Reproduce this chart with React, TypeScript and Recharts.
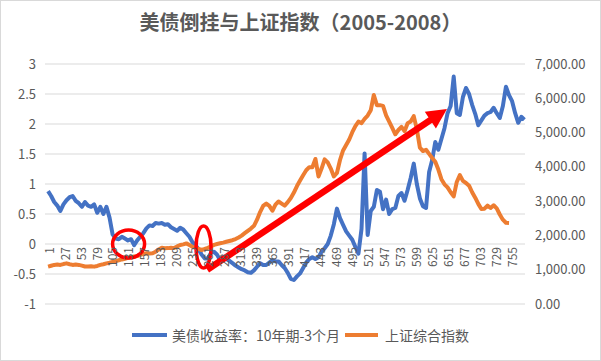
import React from "react";
import {
  LineChart,
  Line,
  XAxis,
  YAxis,
  CartesianGrid,
  ReferenceDot,
  ReferenceLine,
} from "recharts";

// 10Y - 3M US Treasury spread (left axis), sampled every 5th trading day
const yieldSpread: number[] = [
  0.88, 0.8, 0.7, 0.64, 0.55, 0.66, 0.73, 0.78, 0.8, 0.72,
  0.68, 0.62, 0.7, 0.64, 0.62, 0.66, 0.52, 0.62, 0.5, 0.62,
  0.44, 0.16, 0.09, 0.08, 0.12, 0.09, 0.06, 0.08, -0.02, 0.06,
  0.12, 0.18, 0.26, 0.31, 0.3, 0.35, 0.34, 0.35, 0.32, 0.33,
  0.28, 0.25, 0.22, 0.27, 0.24, 0.18, 0.12, 0.03, -0.02, -0.09,
  -0.18, -0.24, -0.24, -0.15, -0.13, -0.18, -0.27, -0.22, -0.25, -0.28,
  -0.32, -0.36, -0.39, -0.42, -0.44, -0.47, -0.48, -0.44, -0.38, -0.32,
  -0.35, -0.35, -0.31, -0.27, -0.29, -0.29, -0.35, -0.4, -0.48, -0.58,
  -0.6, -0.54, -0.49, -0.4, -0.31, -0.25, -0.22, -0.25, -0.22, -0.13,
  -0.07, 0.0, 0.14, 0.33, 0.59, 0.43, 0.32, 0.21, 0.14, 0.07,
  -0.05, -0.16, 0.25, 1.51, 0.15, 0.55, 0.62, 0.9, 0.87, 0.58,
  0.74, 0.5, 0.58, 0.6, 0.8, 0.85, 0.72, 0.9, 1.1, 1.34,
  1.0, 0.76, 0.63, 0.6, 1.2, 1.4, 1.7, 1.57, 1.75, 1.93,
  2.18, 2.3, 2.79, 2.18, 2.15, 2.45, 2.6, 2.5, 2.32, 2.17,
  1.98, 2.06, 2.14, 2.18, 2.2, 2.27, 2.18, 2.1, 2.3, 2.62,
  2.48, 2.38, 2.18, 2.02, 2.12, 2.07,
];

// Shanghai Composite Index (right axis), same sampling
const shanghai: number[] = [
  1090, 1115, 1140, 1150, 1140, 1165, 1185, 1160, 1140, 1150,
  1140, 1120, 1095, 1095, 1100, 1090, 1110, 1140, 1160, 1185,
  1205, 1230, 1250, 1275, 1300, 1320, 1345, 1365, 1385, 1400,
  1430, 1460, 1478, 1470, 1478, 1525, 1590, 1640, 1625, 1630,
  1640, 1630, 1680, 1720, 1740, 1768, 1720, 1665, 1635, 1605,
  1575, 1605, 1640, 1680, 1725, 1750, 1770, 1790, 1815, 1838,
  1860, 1895, 1940, 1995, 2065, 2135, 2200, 2280, 2460, 2680,
  2860, 2930, 2860, 2720, 2900, 2990, 2930, 2870, 2970, 3090,
  3250, 3440, 3600, 3755, 3900, 3990, 3990, 4230, 3720, 3950,
  4220, 4130, 3950, 3720, 3820, 4200, 4480, 4640, 4800, 5010,
  5190, 5318, 5275, 5400, 5495, 5650, 6096, 5800, 5800, 5780,
  5500, 5320, 5140, 4950, 5076, 5165, 5040, 5271, 5320, 5480,
  5100, 4560, 4460, 4500, 4380, 4260, 4150, 3920, 3640, 3490,
  3400, 3260, 3140, 3560, 3760, 3590, 3530, 3450, 3260, 3100,
  2920, 2770, 2780, 2870, 2800, 2880, 2790, 2610, 2460, 2370,
  2365,
];

// day number of each sample (category index on the x axis)
const dayIndex: number[] = yieldSpread.map((_, k) => 1 + 5 * k);

const xTicks: number[] = [
  1, 27, 53, 79, 105, 131, 157, 183, 209, 235, 261, 287, 313, 339, 365,
  391, 417, 443, 469, 495, 521, 547, 573, 599, 625, 651, 677, 703, 729, 755,
];
const leftTicks: number[] = [-1, -0.5, 0, 0.5, 1, 1.5, 2, 2.5, 3];
const rightTicks: number[] = [0, 1000, 2000, 3000, 4000, 5000, 6000, 7000];

const title = "美债倒挂与上证指数（2005-2008）";
const seriesNames = ["美债收益率：10年期-3个月", "上证综合指数"];

// annotation anchors (in data units)
const circleA = { day: 132, value: 0 };
const circleB = { day: 254, value: -0.05 };
const arrowFrom = { day: 260, value: -0.43 };
const arrowTo = { day: 650, value: 2.25 };

const data = dayIndex.map((day, k) => ({
  day,
  spread: yieldSpread[k],
  sh: k < shanghai.length ? shanghai[k] : null,
}));

const BLUE = "#4472C4";
const ORANGE = "#ED7D31";
const TEXT = "#595959";
const FONT = "'Noto Sans CJK SC', 'Noto Sans', sans-serif";

const W = 601;
const H = 361;
const M_TOP = 64;
const X_AXIS_H = 20;
const M_BOTTOM = 57 - X_AXIS_H;
const PLOT_H = H - M_TOP - M_BOTTOM - X_AXIS_H;
const LEFT_MIN = -1;
const LEFT_MAX = 3;

const XTick = (props: any) => {
  const { x, y, payload } = props;
  const zeroY = y - (PLOT_H * (0 - LEFT_MIN)) / (LEFT_MAX - LEFT_MIN);
  const ty = zeroY + 3;
  return (
    <text
      x={x}
      y={ty}
      transform={`rotate(-90, ${x}, ${ty})`}
      textAnchor="end"
      dominantBaseline="central"
      fontSize={12}
      fill={TEXT}
      fontFamily={FONT}
    >
      {payload.value}
    </text>
  );
};

const ellipse = (rx: number, ry: number) => (p: any) =>
  (
    <ellipse
      cx={p.cx}
      cy={p.cy}
      rx={rx}
      ry={ry}
      fill="none"
      stroke="#FF0000"
      strokeWidth={3.5}
    />
  );

const arrowShape = (p: any) => {
  const { x1, y1, x2, y2 } = p;
  if ([x1, y1, x2, y2].some((v) => typeof v !== "number" || isNaN(v))) return null;
  const dx = x2 - x1;
  const dy = y2 - y1;
  const len = Math.sqrt(dx * dx + dy * dy);
  const ux = dx / len;
  const uy = dy / len;
  const nx = -uy;
  const ny = ux;
  const headL = 20;
  const headW = 10;
  const bx = x2 - ux * headL;
  const by = y2 - uy * headL;
  return (
    <g>
      <line x1={x1} y1={y1} x2={bx + ux * 2} y2={by + uy * 2} stroke="#FF0000" strokeWidth={6.5} />
      <polygon
        points={`${x2},${y2} ${bx + nx * headW},${by + ny * headW} ${bx - nx * headW},${by - ny * headW}`}
        fill="#FF0000"
      />
    </g>
  );
};

const fmtRight = (v: number) =>
  v.toLocaleString("en-US", { minimumFractionDigits: 2, maximumFractionDigits: 2 });

export default function App() {
  return (
    <div
      style={{
        position: "absolute",
        left: 0,
        top: 0,
        width: W,
        height: H,
        background: "#fff",
        fontFamily: FONT,
      }}
    >
      <div
        style={{
          position: "absolute",
          left: 0,
          top: 8,
          width: W,
          textAlign: "center",
          fontSize: 20,
          fontWeight: 700,
          lineHeight: "28px",
          color: TEXT,
        }}
      >
        {title}
      </div>
      <div style={{ position: "absolute", left: 0, top: 0 }}>
        <LineChart
          width={W}
          height={H}
          data={data}
          margin={{ top: M_TOP, right: 0, bottom: M_BOTTOM, left: 0 }}
        >
          <CartesianGrid vertical={false} stroke="#d9d9d9" yAxisId="left" />
          <XAxis
            dataKey="day"
            type="number"
            domain={[-4, 777]}
            ticks={xTicks}
            interval={0}
            axisLine={false}
            tickLine={false}
            tickSize={0}
            tickMargin={0}
            height={X_AXIS_H}
            tick={<XTick />}
          />
          <YAxis
            yAxisId="left"
            domain={[LEFT_MIN, LEFT_MAX]}
            ticks={leftTicks}
            width={45}
            axisLine={false}
            tickLine={false}
            tickSize={0}
            tickMargin={9}
            tick={{ fontSize: 13, fill: TEXT, fontFamily: FONT }}
          />
          <YAxis
            yAxisId="right"
            orientation="right"
            domain={[0, 7000]}
            ticks={rightTicks}
            width={76}
            axisLine={false}
            tickLine={false}
            tickSize={0}
            tickMargin={10}
            tickFormatter={fmtRight}
            tick={{ fontSize: 13, fill: TEXT, fontFamily: FONT, textAnchor: "start" }}
          />
          <Line
            yAxisId="left"
            dataKey="spread"
            stroke={BLUE}
            strokeWidth={4}
            dot={false}
            strokeLinejoin="round"
            isAnimationActive={false}
          />
          <Line
            yAxisId="right"
            dataKey="sh"
            stroke={ORANGE}
            strokeWidth={4}
            dot={false}
            strokeLinejoin="round"
            isAnimationActive={false}
          />
          <ReferenceDot
            yAxisId="left"
            x={circleA.day}
            y={circleA.value}
            ifOverflow="visible"
            shape={ellipse(16, 14)}
          />
          <ReferenceDot
            yAxisId="left"
            x={circleB.day}
            y={circleB.value}
            ifOverflow="visible"
            shape={ellipse(7.5, 21)}
          />
          <ReferenceLine
            yAxisId="left"
            segment={[
              { x: arrowFrom.day, y: arrowFrom.value },
              { x: arrowTo.day, y: arrowTo.value },
            ]}
            ifOverflow="visible"
            shape={arrowShape}
          />
        </LineChart>
      </div>
      <div
        style={{
          position: "absolute",
          left: 0,
          top: 325,
          width: W,
          display: "flex",
          justifyContent: "center",
          alignItems: "center",
          fontSize: 14,
          lineHeight: "20px",
          color: TEXT,
        }}
      >
        <span style={{ display: "inline-block", width: 35, height: 4, background: BLUE, marginRight: 5 }} />
        <span style={{ marginRight: 5 }}>{seriesNames[0]}</span>
        <span style={{ display: "inline-block", width: 33, height: 4, background: ORANGE, marginRight: 7 }} />
        <span>{seriesNames[1]}</span>
      </div>
      <div
        style={{
          position: "absolute",
          left: 0,
          top: 0,
          width: W,
          height: H,
          boxSizing: "border-box",
          border: "1px solid #d9d9d9",
          pointerEvents: "none",
        }}
      />
    </div>
  );
}
